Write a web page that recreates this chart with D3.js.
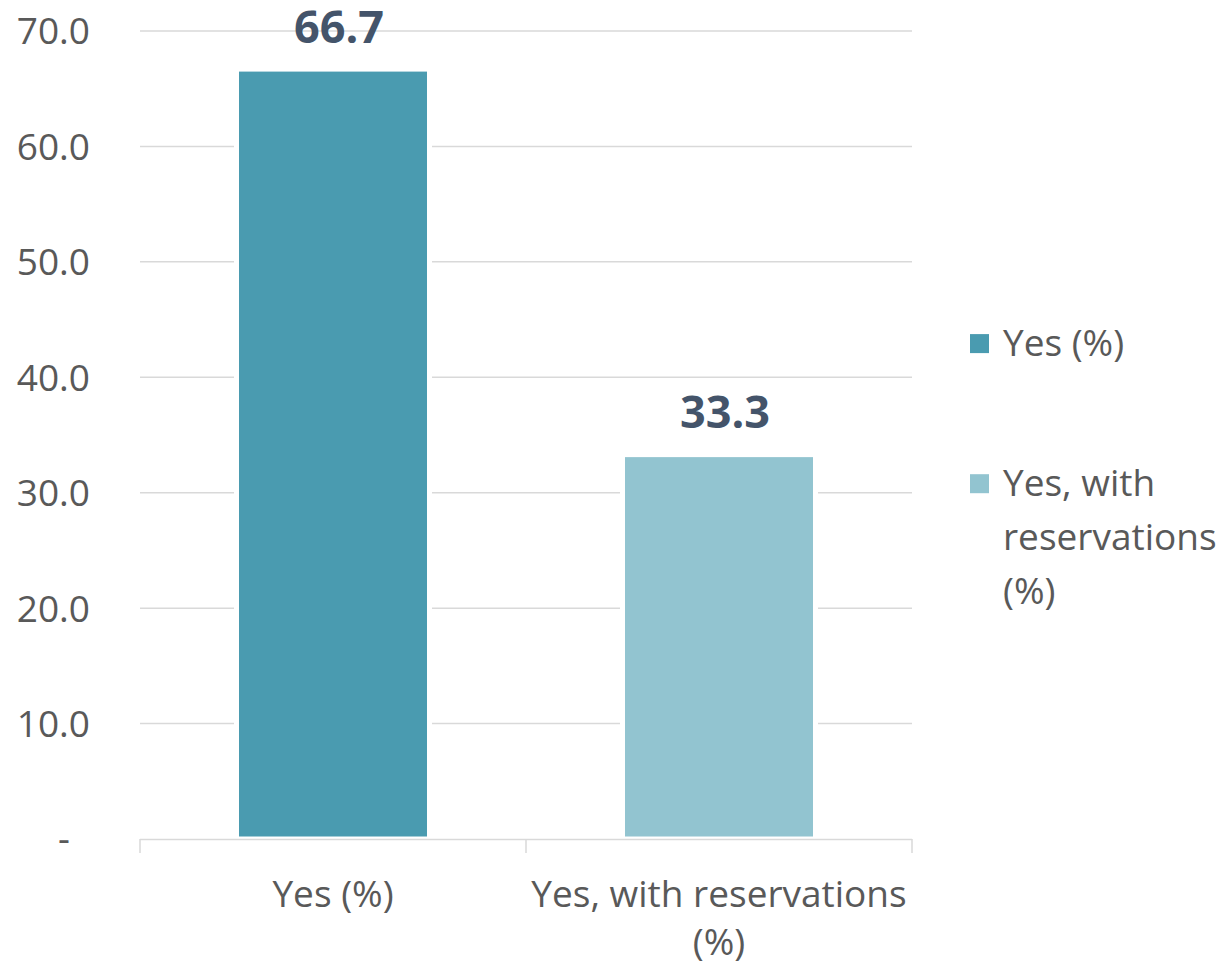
<!DOCTYPE html>
<html>
<head>
<meta charset="utf-8">
<script src="https://cdn.jsdelivr.net/npm/d3@7"></script>
<style>
  html, body { margin: 0; padding: 0; background: #ffffff; }
  svg { display: block; font-family: "Open Sans", "Noto Sans", sans-serif; }
</style>
</head>
<body>
<svg id="chart" width="1220" height="966"></svg>
<script>
// Response shares
const categories = ["Yes (%)", "Yes, with reservations (%)"];
const values = [66.7, 33.3];
const categoryLines = [["Yes (%)"], ["Yes, with reservations", "(%)"]];
const legendLines = [["Yes (%)"], ["Yes, with", "reservations", "(%)"]];
const yTicks = [0, 10, 20, 30, 40, 50, 60, 70];
const colors = ["#4A9BB0", "#92C4D0"];

const svg = d3.select("#chart");
const textColor = "#595959";
const gridColor = "#D9D9D9";

const plot = { left: 140, right: 912, top: 31, bottom: 839 };

const x = d3.scaleBand()
  .domain(categories)
  .range([plot.left, plot.right])
  .paddingInner(0.5)
  .paddingOuter(0.25);

const y = d3.scaleLinear()
  .domain([0, 70])
  .range([plot.bottom, plot.top]);

// Horizontal gridlines
svg.append("g")
  .selectAll("line")
  .data(yTicks.filter(d => d > 0))
  .join("line")
  .attr("x1", plot.left)
  .attr("x2", plot.right)
  .attr("y1", d => y(d))
  .attr("y2", d => y(d))
  .attr("stroke", gridColor)
  .attr("stroke-width", 1.5);

// Y axis labels (zero shown as a dash)
const yAxis = d3.axisLeft(y)
  .tickValues(yTicks)
  .tickSize(0)
  .tickPadding(0)
  .tickFormat(d => d === 0 ? "-" : d3.format(".1f")(d));

const yg = svg.append("g")
  .attr("transform", "translate(90,0)")
  .call(yAxis);
yg.select(".domain").remove();
yg.selectAll("text")
  .attr("fill", textColor)
  .attr("font-size", 37)
  .attr("font-family", "Open Sans")
  .attr("dy", "0.35em")
  .attr("dx", d => d === 0 ? -20 : 0);

// Bars with a white outline
svg.append("g")
  .selectAll("rect")
  .data(values)
  .join("rect")
  .attr("x", (d, i) => x(categories[i]))
  .attr("width", x.bandwidth())
  .attr("y", d => y(d))
  .attr("height", d => y(0) - y(d))
  .attr("fill", (d, i) => colors[i])
  .attr("stroke", "#ffffff")
  .attr("stroke-width", 5);

// Category axis: baseline and boundary ticks
const xg = svg.append("g");
xg.append("line")
  .attr("x1", plot.left)
  .attr("x2", plot.right)
  .attr("y1", y(0) + 0.5)
  .attr("y2", y(0) + 0.5)
  .attr("stroke", gridColor)
  .attr("stroke-width", 1.5);

const boundaries = d3.range(categories.length + 1).map(i => plot.left + i * x.step());
xg.selectAll("line.tick")
  .data(boundaries)
  .join("line")
  .attr("class", "tick")
  .attr("x1", d => d)
  .attr("x2", d => d)
  .attr("y1", y(0))
  .attr("y2", y(0) + 14)
  .attr("stroke", gridColor)
  .attr("stroke-width", 1.5);

// Category labels
xg.selectAll("text.cat")
  .data(categories)
  .join("text")
  .attr("class", "cat")
  .attr("x", d => x(d) + x.bandwidth() / 2)
  .attr("y", 907)
  .attr("text-anchor", "middle")
  .attr("fill", textColor)
  .attr("font-size", 37)
  .each(function (d, i) {
    d3.select(this).selectAll("tspan")
      .data(categoryLines[i])
      .join("tspan")
      .attr("x", x(d) + x.bandwidth() / 2)
      .attr("dy", (t, j) => j === 0 ? 0 : 48)
      .text(t => t);
  });

// Value labels above the bars
svg.append("g")
  .selectAll("text")
  .data(values)
  .join("text")
  .attr("x", (d, i) => x(categories[i]) + x.bandwidth() / 2 + 6)
  .attr("y", d => y(d) - 26.5)
  .attr("text-anchor", "middle")
  .attr("fill", "#44546A")
  .attr("font-size", 45)
  .attr("font-weight", 700)
  .text(d => d3.format(".1f")(d));

// Legend
const legendRows = [343.6, 483.7];
const legend = svg.append("g");
categories.forEach((c, i) => {
  const cy = legendRows[i];
  legend.append("rect")
    .attr("x", 970)
    .attr("y", cy - 9.5)
    .attr("width", 19)
    .attr("height", 19)
    .attr("fill", colors[i]);
  const t = legend.append("text")
    .attr("x", 1003)
    .attr("y", cy + 12)
    .attr("fill", textColor)
    .attr("font-size", 37);
  t.selectAll("tspan")
    .data(legendLines[i])
    .join("tspan")
    .attr("x", 1003)
    .attr("dy", (s, j) => j === 0 ? 0 : 54)
    .text(s => s);
});
</script>
</body>
</html>
